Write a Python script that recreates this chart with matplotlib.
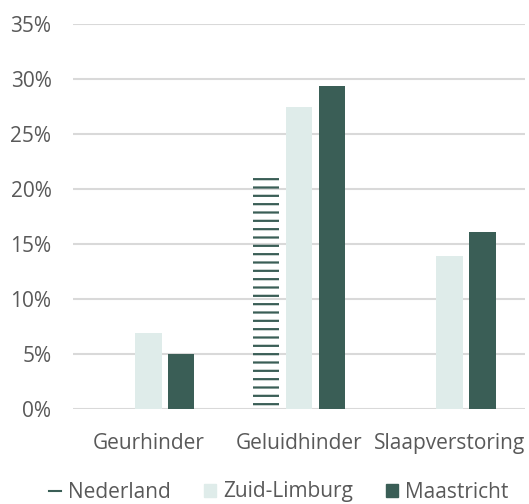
import matplotlib.pyplot as plt
import numpy as np
from matplotlib.lines import Line2D
from matplotlib.patches import Patch

categories = ["Geurhinder", "Geluidhinder", "Slaapverstoring"]
nederland = [np.nan, 21.5, np.nan]
zuid_limburg = [6.9, 27.5, 13.9]
maastricht = [5.0, 29.4, 16.1]
series_names = ["Nederland", "Zuid-Limburg", "Maastricht"]
yticks = [0, 5, 10, 15, 20, 25, 30, 35]

text_col = "#595959"
light = "#dfecea"
dark = "#3a5e56"

plt.rcParams['font.family'] = ['Open Sans', 'DejaVu Sans']
plt.rcParams['hatch.linewidth'] = 1.6

fig = plt.figure(figsize=(5.29, 5.04), dpi=100)
ax = fig.add_axes([73 / 529, 95 / 504, 452 / 529, 385 / 504])

x = np.arange(len(categories))
w = 0.175
step = 0.218
ax.bar(x - step, nederland, w, facecolor="none", edgecolor=dark, linewidth=0, hatch="--")
ax.bar(x, zuid_limburg, w, color=light)
ax.bar(x + step, maastricht, w, color=dark)

ax.set_xlim(-0.5, 2.5)
ax.set_ylim(0, 35)
ax.set_yticks(yticks)
ax.set_yticklabels([f"{t}%" for t in yticks])
ax.set_xticks(x)
ax.set_xticklabels(categories)
ax.yaxis.grid(True, color="#d9d9d9", linewidth=1.5)
ax.set_axisbelow(True)
for s in ax.spines.values():
    s.set_visible(False)
ax.tick_params(length=0, labelsize=15, colors=text_col)
ax.tick_params(axis="y", pad=15.5)
ax.tick_params(axis="x", pad=17.5)

handles = [Line2D([], [], color=dark, linewidth=1.5),
           Patch(color=light), Patch(color=dark)]
fig.legend(handles, series_names, loc="center", bbox_to_anchor=(0.527, 12 / 504),
           ncol=3, frameon=False, fontsize=15, labelcolor=text_col,
           handlelength=0.58, handleheight=0.58, handletextpad=0.34, columnspacing=1.6)

fig.savefig("out.png", dpi=100)
